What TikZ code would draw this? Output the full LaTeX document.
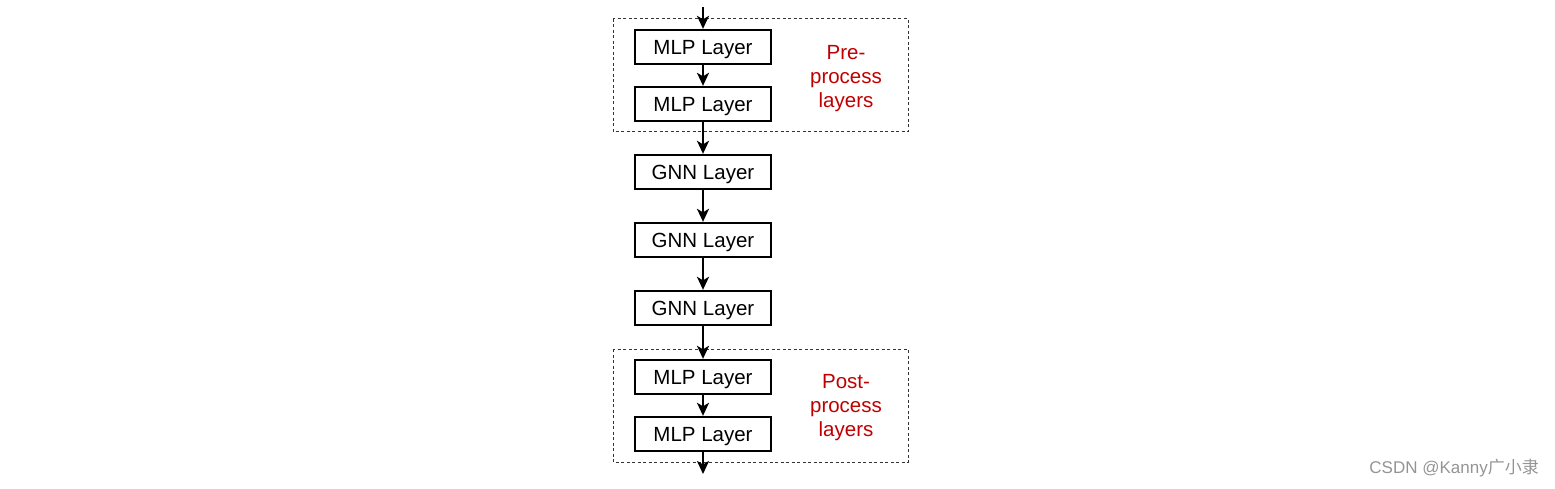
\documentclass[tikz,border=0pt]{standalone}
\usepackage{fontspec}
\setmainfont{Liberation Sans}
\newfontfamily\cjk{Noto Sans CJK SC}
\usetikzlibrary{arrows.meta}
\definecolor{labred}{RGB}{192,0,0}
\begin{document}
\begin{tikzpicture}[x=1pt,y=-1pt,
  layerbox/.style={draw=black,line width=2.3pt,minimum width=136pt,minimum height=34pt,inner sep=0pt,text height=14.7pt,text depth=0pt,font=\fontsize{20.5}{24}\selectfont},
  groupbox/.style={draw=black!80,line width=1pt,dash pattern=on 3pt off 2.5pt},
  flow/.style={line width=2.3pt,-{Stealth[length=13pt,width=12pt,inset=3.5pt]}},
  grouplabel/.style={text=labred,align=center,font=\fontsize{20.5}{24}\selectfont,inner sep=0pt}]
\useasboundingbox (0,0) rectangle (1555,489);
% groups
\draw[groupbox] (613,19) rectangle (908,132);
\draw[groupbox] (613,349) rectangle (908,462);
% layers
\node[layerbox] (m1) at (703,47) {MLP Layer};
\node[layerbox] (m2) at (703,104) {MLP Layer};
\node[layerbox] (g1) at (703,172) {GNN Layer};
\node[layerbox] (g2) at (703,240) {GNN Layer};
\node[layerbox] (g3) at (703,308) {GNN Layer};
\node[layerbox] (m3) at (703,377) {MLP Layer};
\node[layerbox] (m4) at (703,434) {MLP Layer};
\coordinate (in) at (703,7);
\coordinate (out) at (703,474);
% connectors
\draw[flow] (in) -- (m1);
\draw[flow] (m1) -- (m2);
\draw[flow] (m2) -- (g1);
\draw[flow] (g1) -- (g2);
\draw[flow] (g2) -- (g3);
\draw[flow] (g3) -- (m3);
\draw[flow] (m3) -- (m4);
\draw[flow] (m4) -- (out);
% labels
\node[grouplabel] (pre) at (846,79) {Pre-\\process\\layers};
\node[grouplabel] (post) at (846,408) {Post-\\process\\layers};
% watermark
\node[text=black!42,font=\fontsize{17}{20}\selectfont,inner sep=0pt,anchor=east] (wm) at (1539,468) {CSDN @Kanny{\cjk 广小隶}};
\end{tikzpicture}
\end{document}
